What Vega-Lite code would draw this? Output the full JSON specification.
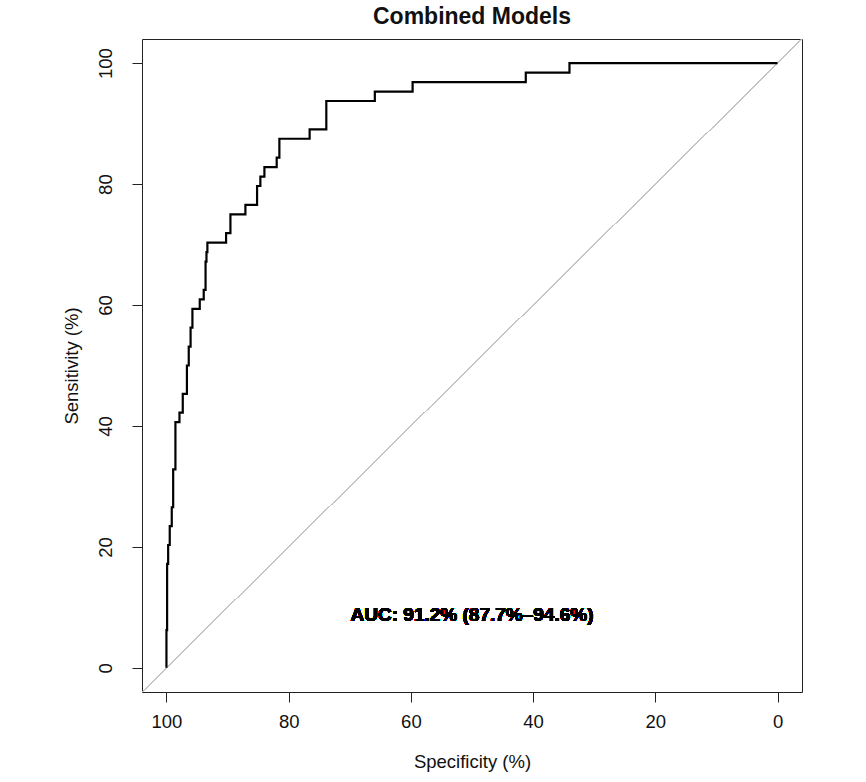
{
  "$schema": "https://vega.github.io/schema/vega-lite/v6.json",
  "width": 660,
  "height": 653,
  "autosize": {"type": "none"},
  "padding": {"left": 142, "top": 39, "right": 64, "bottom": 90},
  "background": "white",
  "config": {
    "font": "Liberation Sans",
    "view": {"stroke": "#222222", "strokeWidth": 1},
    "axis": {
      "grid": false,
      "domain": false,
      "tickSize": 10,
      "tickColor": "#222222",
      "tickWidth": 1,
      "labelFont": "Liberation Sans",
      "labelFontSize": 18.5,
      "labelColor": "#111111",
      "titleFont": "Liberation Sans",
      "titleFontSize": 18.5,
      "titleFontWeight": "normal",
      "titleColor": "#111111"
    }
  },
  "title": {
    "text": "Combined Models",
    "font": "Liberation Sans",
    "fontSize": 23,
    "fontWeight": "bold",
    "color": "#111111",
    "anchor": "middle",
    "offset": 10
  },
  "data": {
    "values": [
      {"i": 1, "specificity": 100, "sensitivity": 0},
      {"i": 2, "specificity": 100, "sensitivity": 6.25},
      {"i": 3, "specificity": 99.89, "sensitivity": 6.25},
      {"i": 4, "specificity": 99.89, "sensitivity": 17.19},
      {"i": 5, "specificity": 99.72, "sensitivity": 17.19},
      {"i": 6, "specificity": 99.72, "sensitivity": 20.31},
      {"i": 7, "specificity": 99.46, "sensitivity": 20.31},
      {"i": 8, "specificity": 99.46, "sensitivity": 23.44},
      {"i": 9, "specificity": 99.13, "sensitivity": 23.44},
      {"i": 10, "specificity": 99.13, "sensitivity": 26.56},
      {"i": 11, "specificity": 98.9, "sensitivity": 26.56},
      {"i": 12, "specificity": 98.9, "sensitivity": 32.81},
      {"i": 13, "specificity": 98.53, "sensitivity": 32.81},
      {"i": 14, "specificity": 98.53, "sensitivity": 40.63},
      {"i": 15, "specificity": 97.87, "sensitivity": 40.63},
      {"i": 16, "specificity": 97.87, "sensitivity": 42.19},
      {"i": 17, "specificity": 97.33, "sensitivity": 42.19},
      {"i": 18, "specificity": 97.33, "sensitivity": 45.31},
      {"i": 19, "specificity": 96.65, "sensitivity": 45.31},
      {"i": 20, "specificity": 96.65, "sensitivity": 50.0},
      {"i": 21, "specificity": 96.35, "sensitivity": 50.0},
      {"i": 22, "specificity": 96.35, "sensitivity": 53.13},
      {"i": 23, "specificity": 96.05, "sensitivity": 53.13},
      {"i": 24, "specificity": 96.05, "sensitivity": 56.25},
      {"i": 25, "specificity": 95.75, "sensitivity": 56.25},
      {"i": 26, "specificity": 95.75, "sensitivity": 59.38},
      {"i": 27, "specificity": 94.55, "sensitivity": 59.38},
      {"i": 28, "specificity": 94.55, "sensitivity": 60.94},
      {"i": 29, "specificity": 93.9, "sensitivity": 60.94},
      {"i": 30, "specificity": 93.9, "sensitivity": 62.5},
      {"i": 31, "specificity": 93.6, "sensitivity": 62.5},
      {"i": 32, "specificity": 93.6, "sensitivity": 67.19},
      {"i": 33, "specificity": 93.45, "sensitivity": 67.19},
      {"i": 34, "specificity": 93.45, "sensitivity": 68.75},
      {"i": 35, "specificity": 93.3, "sensitivity": 68.75},
      {"i": 36, "specificity": 93.3, "sensitivity": 70.31},
      {"i": 37, "specificity": 90.24, "sensitivity": 70.31},
      {"i": 38, "specificity": 90.24, "sensitivity": 71.88},
      {"i": 39, "specificity": 89.53, "sensitivity": 71.88},
      {"i": 40, "specificity": 89.53, "sensitivity": 75.0},
      {"i": 41, "specificity": 87.08, "sensitivity": 75.0},
      {"i": 42, "specificity": 87.08, "sensitivity": 76.56},
      {"i": 43, "specificity": 85.17, "sensitivity": 76.56},
      {"i": 44, "specificity": 85.17, "sensitivity": 79.69},
      {"i": 45, "specificity": 84.63, "sensitivity": 79.69},
      {"i": 46, "specificity": 84.63, "sensitivity": 81.25},
      {"i": 47, "specificity": 83.97, "sensitivity": 81.25},
      {"i": 48, "specificity": 83.97, "sensitivity": 82.81},
      {"i": 49, "specificity": 81.96, "sensitivity": 82.81},
      {"i": 50, "specificity": 81.96, "sensitivity": 84.38},
      {"i": 51, "specificity": 81.52, "sensitivity": 84.38},
      {"i": 52, "specificity": 81.52, "sensitivity": 87.5},
      {"i": 53, "specificity": 76.57, "sensitivity": 87.5},
      {"i": 54, "specificity": 76.57, "sensitivity": 89.06},
      {"i": 55, "specificity": 73.84, "sensitivity": 89.06},
      {"i": 56, "specificity": 73.84, "sensitivity": 93.75},
      {"i": 57, "specificity": 65.9, "sensitivity": 93.75},
      {"i": 58, "specificity": 65.9, "sensitivity": 95.31},
      {"i": 59, "specificity": 59.72, "sensitivity": 95.31},
      {"i": 60, "specificity": 59.72, "sensitivity": 96.88},
      {"i": 61, "specificity": 41.2, "sensitivity": 96.88},
      {"i": 62, "specificity": 41.2, "sensitivity": 98.44},
      {"i": 63, "specificity": 34.05, "sensitivity": 98.44},
      {"i": 64, "specificity": 34.05, "sensitivity": 100},
      {"i": 65, "specificity": 0, "sensitivity": 100}
    ]
  },
  "layer": [
    {
      "mark": {"type": "rule", "color": "#C4C4C4", "strokeWidth": 1, "clip": true},
      "encoding": {
        "x": {"datum": 104, "type": "quantitative"},
        "y": {"datum": -4, "type": "quantitative"},
        "x2": {"datum": -4},
        "y2": {"datum": 104}
      }
    },
    {
      "mark": {"type": "line", "color": "#000000", "strokeWidth": 2.2, "strokeJoin": "miter", "interpolate": "linear"},
      "encoding": {
        "x": {
          "field": "specificity",
          "type": "quantitative",
          "scale": {"domain": [-4, 104], "reverse": true, "nice": false, "zero": false},
          "axis": {"title": "Specificity (%)", "values": [100, 80, 60, 40, 20, 0], "labelPadding": 10, "titlePadding": 22, "labelFlush": false}
        },
        "y": {
          "field": "sensitivity",
          "type": "quantitative",
          "scale": {"domain": [-4, 104], "nice": false, "zero": false},
          "axis": {"title": "Sensitivity (%)", "values": [0, 20, 40, 60, 80, 100], "labelAngle": -90, "labelAlign": "center", "labelBaseline": "bottom", "labelPadding": 17, "titlePadding": 15, "labelFlush": false}
        },
        "order": {"field": "i", "type": "quantitative"}
      }
    },
    {
      "mark": {"type": "text", "text": "AUC: 91.2% (87.7%–94.6%)", "font": "Liberation Sans", "fontSize": 19, "fontWeight": "bold", "color": "#000000", "align": "center", "baseline": "middle"},
      "encoding": {
        "x": {"datum": 50, "type": "quantitative"},
        "y": {"datum": 8.8, "type": "quantitative"}
      }
    }
  ]
}
